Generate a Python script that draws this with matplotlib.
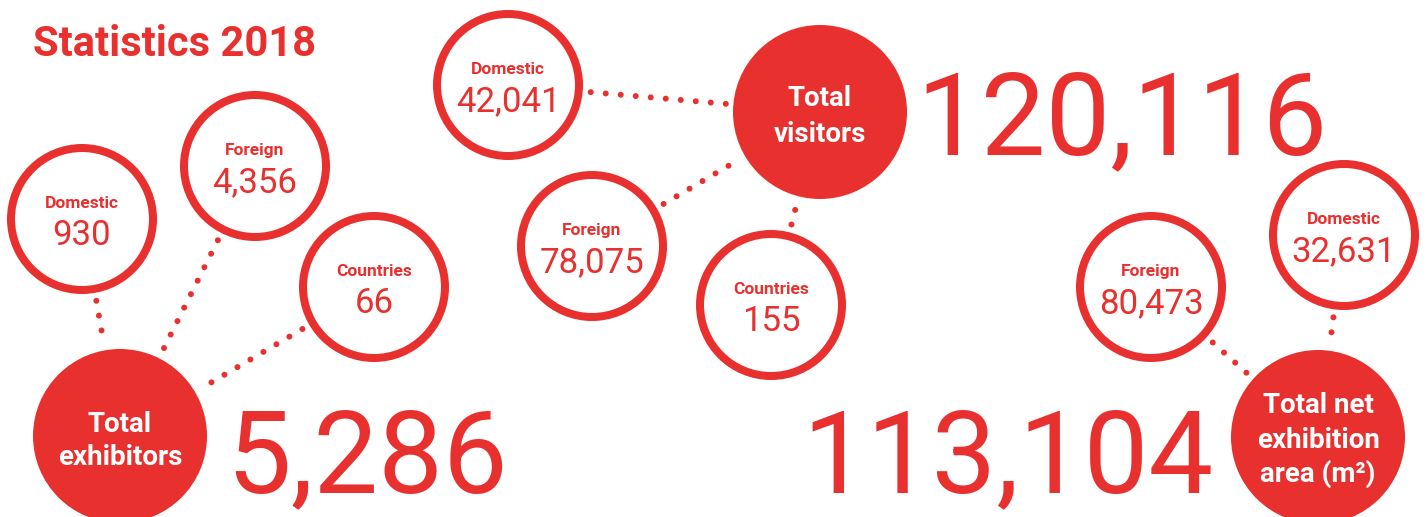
import matplotlib.pyplot as plt
from matplotlib.patches import Circle
import numpy as np

# data
title = "Statistics 2018"

exhibitor_labels = ["Domestic", "Foreign", "Countries"]
exhibitor_values = [930, 4356, 66]
exhibitor_total = 5286
exhibitor_title = ["Total", "exhibitors"]

visitor_labels = ["Domestic", "Foreign", "Countries"]
visitor_values = [42041, 78075, 155]
visitor_total = 120116
visitor_title = ["Total", "visitors"]

area_labels = ["Foreign", "Domestic"]
area_values = [80473, 32631]
area_total = 113104
area_title = ["Total net", "exhibition", "area (m²)"]

# layout (pixel coords, y down)
RED = "#e8302f"
R_SMALL = 71      # ring centre-line radius
R_RING_OUT = 75
R_BIG = 87

groups = [
    dict(labels=exhibitor_labels, values=exhibitor_values, total=exhibitor_total,
         title=exhibitor_title, small=[(82, 219), (255, 166), (374, 287)],
         big=(120, 436), title_base=[-4, 29],
         num_pos=(226, 492), num_ha="left"),
    dict(labels=visitor_labels, values=visitor_values, total=visitor_total,
         title=visitor_title, small=[(508, 85), (592, 246), (771, 305)],
         big=(820, 112), title_base=[-6, 30],
         num_pos=(916, 154), num_ha="left"),
    dict(labels=area_labels, values=area_values, total=area_total,
         title=area_title, small=[(1151, 287), (1344, 235)],
         big=(1318, 437), title_base=[-24, 11, 45],
         num_pos=(1214, 492), num_ha="right"),
]

fig = plt.figure(figsize=(14.28, 5.17), dpi=100)
ax = fig.add_axes([0, 0, 1, 1])
ax.set_xlim(0, 1428)
ax.set_ylim(517, 0)
ax.axis("off")

px = 72 / 100  # points per pixel

for g in groups:
    bx, by = g["big"]
    for (sx, sy), lab, val in zip(g["small"], g["labels"], g["values"]):
        # dotted connector
        d = np.array([bx - sx, by - sy], dtype=float)
        u = d / np.hypot(*d)
        p0 = np.array([sx, sy]) + u * (R_RING_OUT + 8)
        p1 = np.array([bx, by]) - u * (R_BIG + 7)
        ax.plot([p0[0], p1[0]], [p0[1], p1[1]], color=RED, lw=6 * px,
                linestyle=(0, (0.01, 2.5)), dash_capstyle="round", zorder=1)
        ax.add_patch(Circle((sx, sy), R_SMALL, facecolor="white",
                            edgecolor=RED, lw=8 * px, zorder=2))
        ax.text(sx, sy - 11, lab, color=RED, fontsize=12.5, fontweight="bold",
                family="Roboto", ha="center", va="baseline", zorder=3)
        ax.text(sx, sy + 26, f"{val:,}", color=RED, fontsize=25,
                family="Roboto", ha="center", va="baseline", zorder=3)

    ax.add_patch(Circle((bx, by), R_BIG, facecolor=RED, edgecolor="none", zorder=2))
    for line, off in zip(g["title"], g["title_base"]):
        ax.text(bx, by + off, line, color="white", fontsize=20, fontweight="bold",
                family="Roboto", ha="center", va="baseline", zorder=3)

    nx, ny = g["num_pos"]
    ax.text(nx, ny, f"{g['total']:,}", color=RED, fontsize=83,
            family="Roboto", ha=g["num_ha"], va="baseline", zorder=3)

ax.text(33, 56, title, color=RED, fontsize=30, fontweight="bold",
        family="Roboto", ha="left", va="baseline")

fig.savefig("out.png", dpi=100)
